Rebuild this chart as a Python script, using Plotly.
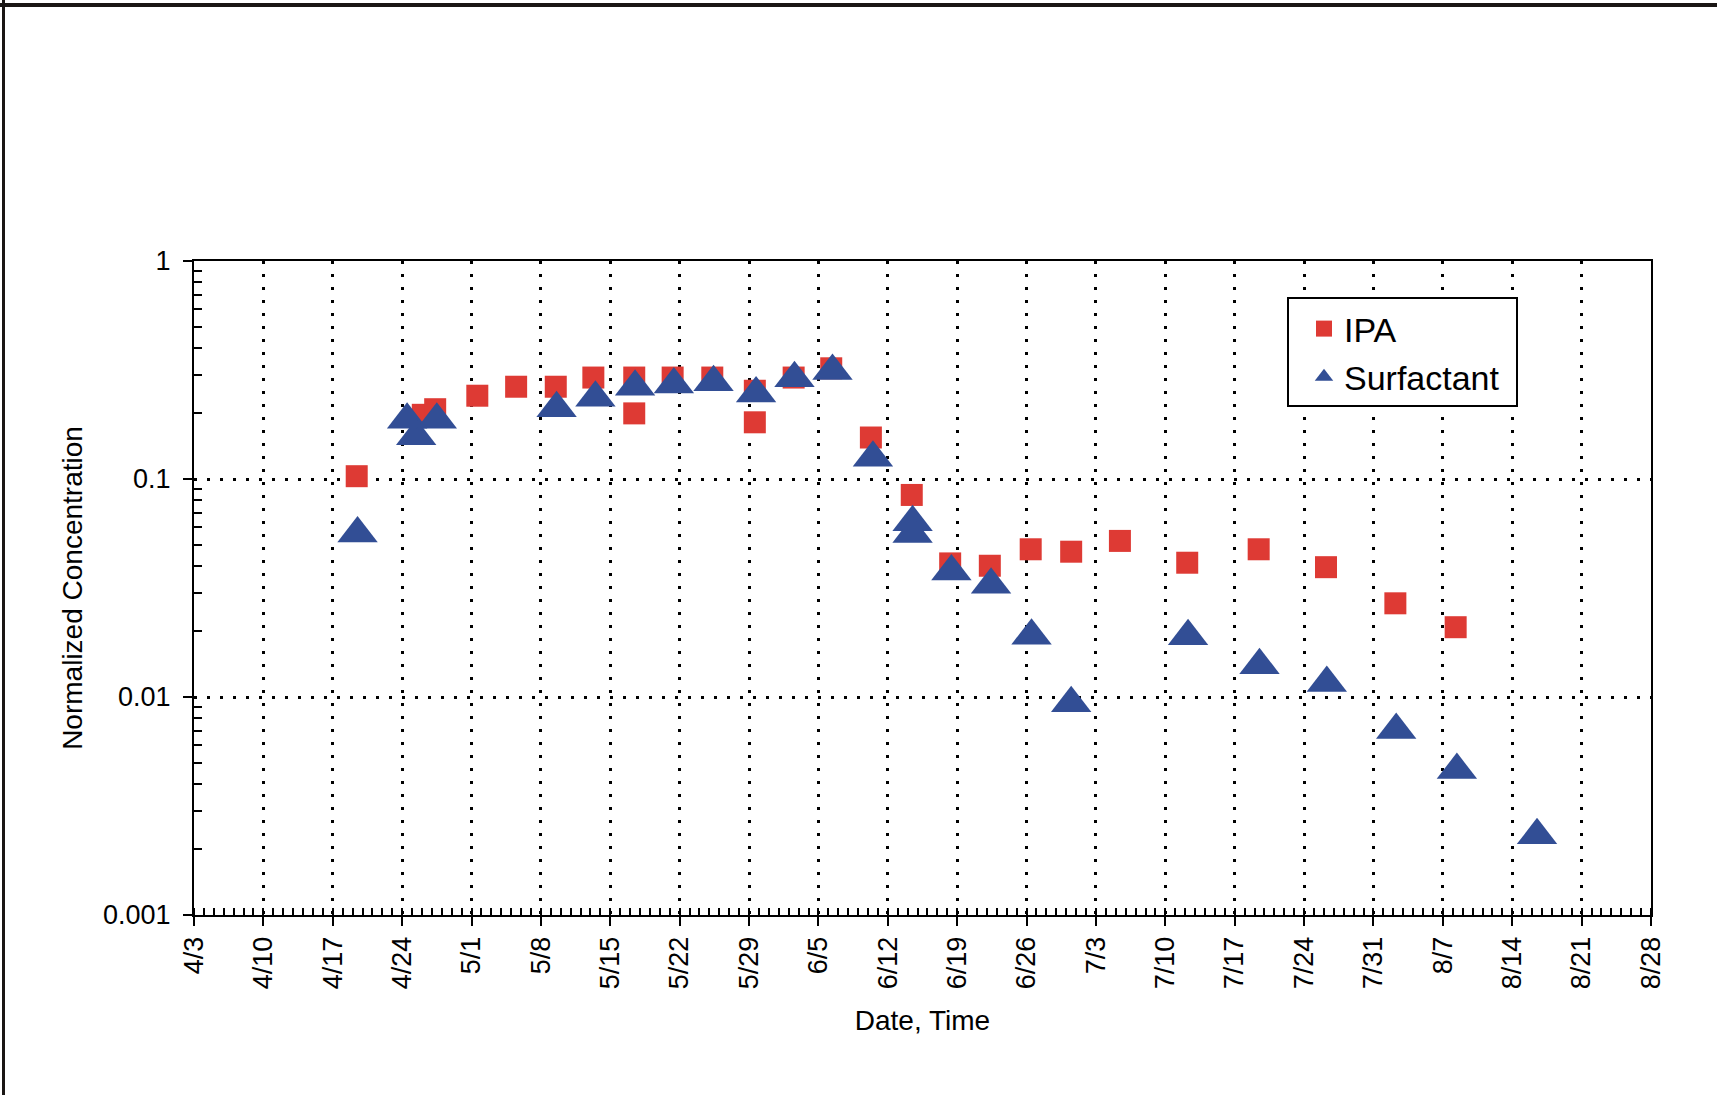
import plotly.graph_objects as go

# ---- data -------------------------------------------------------------
ipa_time = [
    "2002-04-19 10:00", "2002-04-26 02:00", "2002-04-27 08:00", "2002-05-01 14:00",
    "2002-05-05 12:00", "2002-05-09 12:00", "2002-05-13 07:00", "2002-05-17 10:00",
    "2002-05-17 10:00", "2002-05-21 07:00", "2002-05-25 07:00", "2002-05-29 14:00",
    "2002-05-29 14:00", "2002-06-02 12:00", "2002-06-06 07:00", "2002-06-10 07:00",
    "2002-06-14 10:00", "2002-06-18 07:00", "2002-06-22 07:00", "2002-06-26 10:00",
    "2002-06-30 12:00", "2002-07-05 10:00", "2002-07-12 05:00", "2002-07-19 10:00",
    "2002-07-26 05:00", "2002-08-02 05:00", "2002-08-08 07:00",
]
ipa_conc = [
    0.103, 0.197, 0.209, 0.241,
    0.265, 0.265, 0.292, 0.292,
    0.200, 0.292, 0.292, 0.254,
    0.182, 0.292, 0.322, 0.155,
    0.0845, 0.041, 0.040, 0.0476,
    0.0464, 0.052, 0.0413, 0.0476,
    0.0394, 0.0269, 0.0209,
]

surf_time = [
    "2002-04-19 12:00", "2002-04-24 12:00", "2002-04-25 10:00", "2002-04-27 12:00",
    "2002-05-09 14:00", "2002-05-13 12:00", "2002-05-17 12:00", "2002-05-21 10:00",
    "2002-05-25 10:00", "2002-05-29 17:00", "2002-06-02 14:00", "2002-06-06 10:00",
    "2002-06-10 12:00", "2002-06-14 12:00", "2002-06-14 12:00", "2002-06-18 10:00",
    "2002-06-22 10:00", "2002-06-26 12:00", "2002-06-30 12:00", "2002-07-12 07:00",
    "2002-07-19 12:00", "2002-07-26 07:00", "2002-08-02 07:00", "2002-08-08 10:00",
    "2002-08-16 12:00",
]
surf_conc = [
    0.0562, 0.187, 0.157, 0.187,
    0.211, 0.236, 0.265, 0.271,
    0.278, 0.247, 0.290, 0.313,
    0.125, 0.0633, 0.056, 0.0376,
    0.0327, 0.0191, 0.00937, 0.019,
    0.014, 0.0116, 0.00705, 0.00462,
    0.00232,
]

week_ticks = [
    "2002-04-03", "2002-04-10", "2002-04-17", "2002-04-24", "2002-05-01",
    "2002-05-08", "2002-05-15", "2002-05-22", "2002-05-29", "2002-06-05",
    "2002-06-12", "2002-06-19", "2002-06-26", "2002-07-03", "2002-07-10",
    "2002-07-17", "2002-07-24", "2002-07-31", "2002-08-07", "2002-08-14",
    "2002-08-21", "2002-08-28",
]
week_labels = [
    "4/3", "4/10", "4/17", "4/24", "5/1", "5/8", "5/15", "5/22", "5/29", "6/5",
    "6/12", "6/19", "6/26", "7/3", "7/10", "7/17", "7/24", "7/31", "8/7", "8/14",
    "8/21", "8/28",
]
y_ticks = [1, 0.1, 0.01, 0.001]
y_labels = ["1", "0.1", "0.01", "0.001"]

# ---- layout geometry --------------------------------------------------
W, H = 1717, 1095
ML, MR, MT, MB = 194, 66, 261, 180
PW, PH = W - ML - MR, H - MT - MB


def px_x(px):
    return (px - ML) / PW


def px_y(py):
    return (H - MB - py) / PH


FONT = "Liberation Sans, Arial, sans-serif"
RED = "#DE3A34"
BLUE = "#324E95"

fig = go.Figure()
fig.add_trace(go.Scatter(
    x=ipa_time, y=ipa_conc, mode="markers", name="IPA", legendgroup="a",
    marker=dict(symbol="square", size=22, color=RED, line=dict(width=0)),
))
fig.add_trace(go.Scatter(
    x=surf_time, y=surf_conc, mode="markers", name="Surfactant", legendgroup="b",
    marker=dict(symbol="triangle-up", size=35, color=BLUE, line=dict(width=0)),
))

minor_y = [m * 10 ** e for e in (-3, -2, -1) for m in range(2, 10)]

fig.update_layout(
    width=W, height=H,
    margin=dict(l=ML, r=MR, t=MT, b=MB, autoexpand=False),
    paper_bgcolor="white", plot_bgcolor="white",
    font=dict(family=FONT, color="black", size=27),
    showlegend=True,
    legend=dict(
        x=px_x(1304), y=px_y(300), xanchor="left", yanchor="top",
        bgcolor="rgba(0,0,0,0)", borderwidth=0,
        font=dict(size=34, family=FONT, color="black"),
        tracegroupgap=1, itemsizing="trace",
    ),
    xaxis=dict(
        type="date",
        range=[week_ticks[0], week_ticks[-1]],
        tickmode="array", tickvals=week_ticks, ticktext=week_labels,
        tickangle=-90, tickfont=dict(size=27),
        ticks="outside", ticklen=9, tickwidth=2, tickcolor="black",
        showline=True, linecolor="black", linewidth=2, mirror=True,
        showgrid=True, gridcolor="black", gridwidth=2.6, griddash="3px,10px",
        minor=dict(dtick=86400000, ticks="inside", ticklen=7, tickwidth=1.5,
                   tickcolor="black", showgrid=False),
        zeroline=False,
        title=dict(text="Date, Time", font=dict(size=28), standoff=22),
    ),
    yaxis=dict(
        type="log", range=[-3, 0],
        tickmode="array", tickvals=y_ticks, ticktext=y_labels,
        tickfont=dict(size=27),
        ticks="outside", ticklen=9, tickwidth=2, tickcolor="black",
        ticklabelstandoff=7,
        showline=True, linecolor="black", linewidth=2, mirror=True,
        showgrid=True, gridcolor="black", gridwidth=2.6, griddash="3px,10px",
        minor=dict(tickvals=minor_y, ticks="inside", ticklen=8, tickwidth=1.5,
                   tickcolor="black", showgrid=False),
        zeroline=False,
        title=dict(text="Normalized Concentration", font=dict(size=28), standoff=12),
    ),
    shapes=[
        # legend frame (white panel with black outline)
        dict(type="rect", xref="paper", yref="paper", layer="above",
             x0=px_x(1288), x1=px_x(1517), y0=px_y(406), y1=px_y(298),
             fillcolor="white", line=dict(color="black", width=2)),
        # outer frame: heavy top rule and left rule
        dict(type="line", xref="paper", yref="paper",
             x0=px_x(0), x1=px_x(W), y0=px_y(5), y1=px_y(5),
             line=dict(color="#1a1614", width=4)),
        dict(type="line", xref="paper", yref="paper",
             x0=px_x(3.5), x1=px_x(3.5), y0=px_y(0), y1=px_y(H),
             line=dict(color="#1a1614", width=3)),
    ],
)

fig.write_html("out.html")
